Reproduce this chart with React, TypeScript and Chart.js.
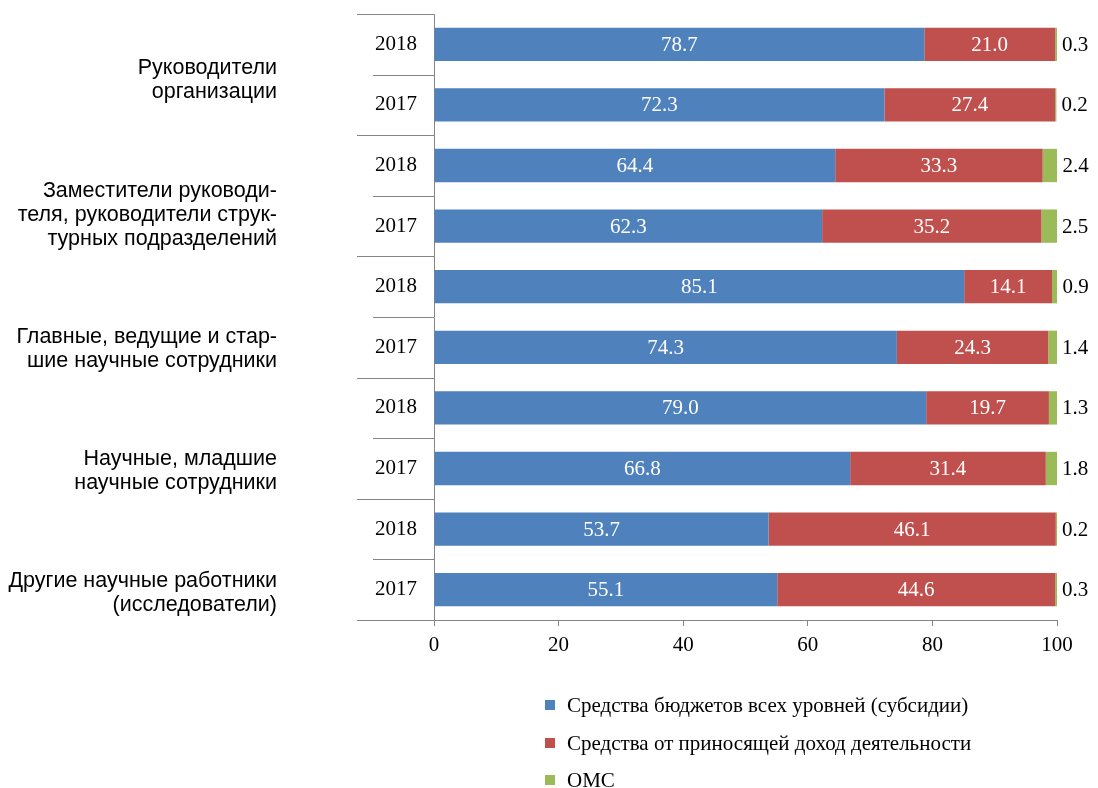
import React, { useEffect, useRef } from "react";
import { Chart, registerables } from "chart.js";

Chart.register(...registerables);

const years = ["2018", "2017", "2018", "2017", "2018", "2017", "2018", "2017", "2018", "2017"];
const groups = [
  ["Руководители", "организации"],
  ["Заместители руководи-", "теля, руководители струк-", "турных подразделений"],
  ["Главные, ведущие и стар-", "шие научные сотрудники"],
  ["Научные, младшие", "научные сотрудники"],
  ["Другие научные работники", "(исследователи)"],
];
const budget = [78.7, 72.3, 64.4, 62.3, 85.1, 74.3, 79.0, 66.8, 53.7, 55.1];
const income = [21.0, 27.4, 33.3, 35.2, 14.1, 24.3, 19.7, 31.4, 46.1, 44.6];
const oms = [0.3, 0.2, 2.4, 2.5, 0.9, 1.4, 1.3, 1.8, 0.2, 0.3];
const seriesNames = [
  "Средства бюджетов всех уровней (субсидии)",
  "Средства от приносящей доход деятельности",
  "ОМС",
];
const xTicks = [0, 20, 40, 60, 80, 100];

const SERIF = '"Liberation Serif", "Times New Roman", serif';
const SANS = '"Liberation Sans", Arial, sans-serif';
const AXIS = "#868686";
const GROUP_LABEL_SHIFT = [5, 19, 32, 33, 34];

const overlayPlugin = {
  id: "overlay",
  afterDraw(chart: any) {
    const ctx = chart.ctx;
    const y = chart.scales.y;
    const area = chart.chartArea;
    const n = chart.data.labels.length;
    const pitch = y.getPixelForValue(1) - y.getPixelForValue(0);
    ctx.save();
    // category boundary lines (multi-level axis)
    ctx.strokeStyle = AXIS;
    ctx.lineWidth = 1;
    for (let k = 0; k <= n; k++) {
      const py = Math.round(y.getPixelForValue(0) - pitch / 2 + k * pitch) + 0.5;
      const x0 = k % 2 === 0 ? area.left - 77 : area.left - 61;
      ctx.beginPath();
      ctx.moveTo(x0, py);
      ctx.lineTo(area.left, py);
      ctx.stroke();
    }
    // group labels
    ctx.fillStyle = "#000";
    ctx.font = `21.5px ${SANS}`;
    ctx.textAlign = "right";
    ctx.textBaseline = "middle";
    const lh = 24;
    groups.forEach((lines, g) => {
      const cy = (y.getPixelForValue(g * 2) + y.getPixelForValue(g * 2 + 1)) / 2 + GROUP_LABEL_SHIFT[g];
      const start = cy - ((lines.length - 1) * lh) / 2;
      lines.forEach((t, i) => ctx.fillText(t, 277, start + i * lh));
    });
    // data labels
    ctx.font = `21px ${SERIF}`;
    chart.data.datasets.forEach((ds: any, di: number) => {
      const meta = chart.getDatasetMeta(di);
      meta.data.forEach((bar: any, i: number) => {
        const v = ds.data[i];
        const txt = v.toFixed(1);
        if (di < 2) {
          ctx.fillStyle = "#fff";
          ctx.textAlign = "center";
          ctx.fillText(txt, (bar.base + bar.x) / 2, bar.y + 1);
        } else {
          ctx.fillStyle = "#000";
          ctx.textAlign = "left";
          ctx.fillText(txt, Math.max(bar.x, bar.base) + 5, bar.y + 1);
        }
      });
    });
    // legend
    const lx = 545;
    const ly = [705, 743, 780];
    chart.data.datasets.forEach((ds: any, di: number) => {
      ctx.fillStyle = ds.backgroundColor;
      ctx.fillRect(lx, ly[di] - 5, 10, 10);
      ctx.fillStyle = "#000";
      ctx.textAlign = "left";
      ctx.fillText(ds.label, lx + 22, ly[di] + 1);
    });
    ctx.restore();
  },
};

export default function App() {
  const ref = useRef<HTMLCanvasElement>(null);
  useEffect(() => {
    document.body.style.margin = "0";
    const chart = new Chart(ref.current!, {
      type: "bar",
      data: {
        labels: years,
        datasets: [
          { label: seriesNames[0], data: budget, backgroundColor: "#4F81BD" },
          { label: seriesNames[1], data: income, backgroundColor: "#C0504D" },
          { label: seriesNames[2], data: oms, backgroundColor: "#9BBB59" },
        ],
      },
      options: {
        indexAxis: "y",
        animation: false,
        responsive: false,
        devicePixelRatio: 1,
        datasets: { bar: { categoryPercentage: 1, barPercentage: 0.55 } },
        layout: { padding: { top: 14, right: 41, left: 0, bottom: 0 } },
        plugins: { legend: { display: false }, tooltip: { enabled: false } },
        scales: {
          x: {
            stacked: true,
            min: 0,
            max: 100,
            afterBuildTicks: (s: any) => {
              s.ticks = xTicks.map((v) => ({ value: v }));
            },
            afterFit: (s: any) => {
              s.height = 168;
              s.paddingLeft = 0;
              s.paddingRight = 0;
            },
            grid: { drawOnChartArea: false, drawTicks: true, tickLength: 6, color: AXIS },
            border: { display: true, color: AXIS },
            ticks: { font: { family: SERIF, size: 21 }, color: "#000", padding: 7, maxRotation: 0 },
          },
          y: {
            stacked: true,
            afterFit: (s: any) => {
              s.width = 434;
              s.paddingTop = 0;
              s.paddingBottom = 0;
            },
            grid: { display: false, drawTicks: false },
            border: { display: true, color: AXIS },
            ticks: { font: { family: SERIF, size: 21 }, color: "#000", padding: 17 },
          },
        },
      },
      plugins: [overlayPlugin],
    });
    return () => chart.destroy();
  }, []);
  return <canvas ref={ref} width={1098} height={788} />;
}
